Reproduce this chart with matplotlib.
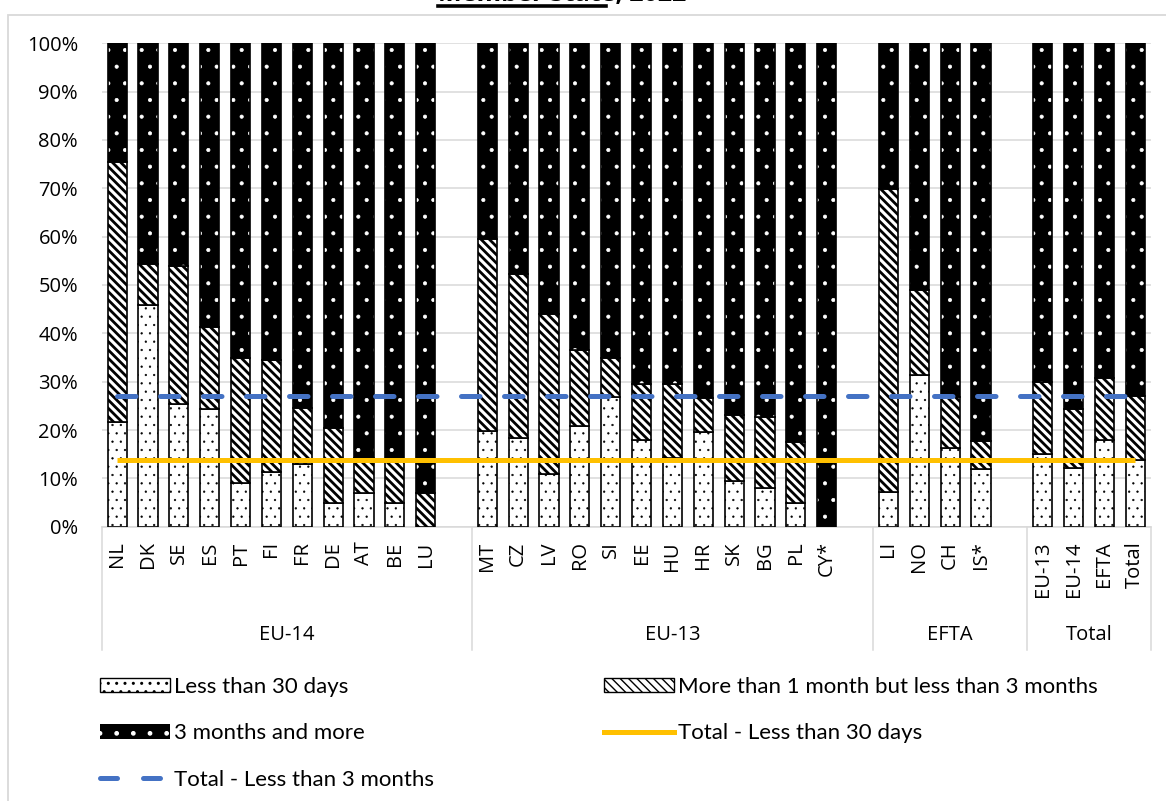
import matplotlib.pyplot as plt
import matplotlib.patches as mpatches
from matplotlib.lines import Line2D
from matplotlib.ticker import FuncFormatter

# values, in % per category
groups = ["EU-14", "EU-13", "EFTA", "Total"]
members = [
    ["NL", "DK", "SE", "ES", "PT", "FI", "FR", "DE", "AT", "BE", "LU"],
    ["MT", "CZ", "LV", "RO", "SI", "EE", "HU", "HR", "SK", "BG", "PL", "CY*"],
    ["LI", "NO", "CH", "IS*"],
    ["EU-13", "EU-14", "EFTA", "Total"],
]
less_30 = [21.7, 45.8, 25.4, 24.4, 9.0, 11.4, 13.0, 5.0, 7.0, 5.0, 0.0,
           19.8, 18.4, 10.9, 20.9, 26.8, 18.0, 14.3, 19.5, 9.5, 8.1, 5.0, 0.0,
           7.2, 31.3, 16.3, 12.0,
           15.0, 12.2, 18.0, 13.8]
one_to_3 = [53.7, 8.5, 28.5, 16.9, 26.0, 23.0, 11.6, 15.5, 7.3, 8.5, 7.0,
            39.8, 33.8, 33.1, 15.6, 8.2, 11.5, 15.2, 7.2, 13.6, 14.5, 12.6, 0.0,
            62.7, 17.6, 10.6, 5.8,
            14.9, 12.1, 12.7, 13.2]
over_3 = [24.6, 45.7, 46.1, 58.7, 65.0, 65.6, 75.4, 79.5, 85.7, 86.5, 93.0,
          40.4, 47.8, 56.0, 63.5, 65.0, 70.5, 70.5, 73.3, 76.9, 77.4, 82.4, 100.0,
          30.1, 51.1, 73.1, 82.2,
          70.1, 75.7, 69.3, 73.0]
total_less_30 = 13.8
total_less_3m = 27.0

tick_font = "Open Sans"
legend_font = "Lato"
grid_grey = "#D9D9D9"
yellow = "#FFC000"
blue = "#4472C4"
stripes = "\\\\\\\\"


def hatch_lw(artists, lw):
    # per-artist hatch width where the matplotlib version allows it
    for a in artists:
        if hasattr(a, "set_hatch_linewidth"):
            a.set_hatch_linewidth(lw)


# slots: one blank category after every group but the last (as in Excel)
x_pos, labels, group_edges = [], [], [-0.5]
slot = 0
for gi, names in enumerate(members):
    for name in names:
        x_pos.append(slot)
        labels.append(name)
        slot += 1
    if gi < len(members) - 1:
        slot += 1
    group_edges.append(slot - 0.5)
n_slots = slot

fig = plt.figure(figsize=(11.66, 8.01), dpi=100)
ax = fig.add_axes([0.0872, 0.3424, 0.8997, 0.6036])

w = 0.62
top_bottom = [a + b for a, b in zip(less_30, one_to_3)]
b1 = ax.bar(x_pos, less_30, w, color="white", edgecolor="black", hatch="..",
            linewidth=1.2, zorder=3)
hatch_lw(b1, 0.4)
b2 = ax.bar(x_pos, one_to_3, w, bottom=less_30, color="white",
            edgecolor="black", hatch=stripes, linewidth=1.2, zorder=3)
hatch_lw(b2, 2.0)
b3 = ax.bar(x_pos, over_3, w, bottom=top_bottom, color="black",
            edgecolor="white", hatch=".", linewidth=0, zorder=3)
hatch_lw(b3, 0.5)
ax.bar(x_pos, over_3, w, bottom=top_bottom, fill=False, edgecolor="black",
       linewidth=1.2, zorder=3)

line_x = list(range(n_slots))
ax.plot(line_x, [total_less_30] * n_slots, color=yellow, lw=3.6, zorder=4,
        solid_capstyle="butt")
ax.plot(line_x, [total_less_3m] * n_slots, color=blue, lw=3.6, zorder=4,
        dashes=(3.7, 4.9), dash_capstyle="round")

ax.set_xlim(-0.5, n_slots - 0.5)
ax.set_ylim(0, 100)
ax.set_yticks(range(0, 101, 10))
ax.yaxis.set_major_formatter(FuncFormatter(lambda v, p: f"{v:.0f}%"))
ax.grid(axis="y", color=grid_grey, lw=1.1, zorder=0)
ax.set_axisbelow(True)
for s in ["top", "left", "right"]:
    ax.spines[s].set_visible(False)
ax.spines["bottom"].set_color(grid_grey)
ax.spines["bottom"].set_linewidth(1.1)

ax.set_xticks(x_pos, labels, rotation=90, fontsize=14.5, family=tick_font)
ax.tick_params(axis="x", length=0, pad=10.5)
ax.tick_params(axis="y", length=0, pad=17, labelsize=14.5)
for t in ax.get_yticklabels():
    t.set_family(tick_font)

# multi-level category axis: separators and group names
xt = ax.get_xaxis_transform()
for e in group_edges:
    ax.plot([e, e], [0, -0.254], transform=xt, color=grid_grey, lw=1.1,
            clip_on=False)
for gi, g in enumerate(groups):
    centre = (group_edges[gi] + group_edges[gi + 1]) / 2
    ax.text(centre, -0.223, g, transform=xt, ha="center", va="center",
            fontsize=14.5, family=tick_font)

# title, mostly cut off at the top edge (as in the source picture)
fig.text(437.7 / 1166, 1 - 1.5 / 801, "Member State, 2022", fontsize=18,
         fontweight="bold", family=tick_font, ha="left", va="baseline")
fig.add_artist(Line2D([437.7 / 1166, 605.7 / 1166], [1 - 5.7 / 801] * 2,
                      color="black", lw=2.6))

# chart-area border
fig.add_artist(mpatches.Rectangle((8.3 / 1166, -0.1), 1.2, 1.0813, fill=False,
                                  edgecolor=grid_grey, lw=1.3,
                                  transform=fig.transFigure))

h_less30 = mpatches.Patch(facecolor="white", edgecolor="black", hatch="..",
                          lw=1.0)
h_mid = mpatches.Patch(facecolor="white", edgecolor="black", hatch=stripes,
                       lw=1.0)
h_over = mpatches.Patch(facecolor="black", edgecolor="white", hatch=".", lw=0)
hatch_lw([h_less30], 0.4)
hatch_lw([h_mid], 2.0)
hatch_lw([h_over], 0.5)
h_y = Line2D([], [], color=yellow, lw=3.6)
h_b = Line2D([], [], color=blue, lw=3.6, dashes=(3.4, 5.2),
             dash_capstyle="round")

leg_kw = dict(loc="upper left", frameon=False, borderpad=0, borderaxespad=0,
              handlelength=3.15, handleheight=0.63, handletextpad=0.2,
              labelspacing=1.19, prop={"family": legend_font, "size": 16})
fig.legend([h_less30, h_over, h_b],
           ["Less than 30 days", "3 months and more",
            "Total - Less than 3 months"],
           bbox_to_anchor=(100 / 1166, 1 - 677 / 801), **leg_kw)
fig.legend([h_mid, h_y],
           ["More than 1 month but less than 3 months",
            "Total - Less than 30 days"],
           bbox_to_anchor=(604 / 1166, 1 - 677 / 801), **leg_kw)

fig.savefig("out.png", dpi=100)
